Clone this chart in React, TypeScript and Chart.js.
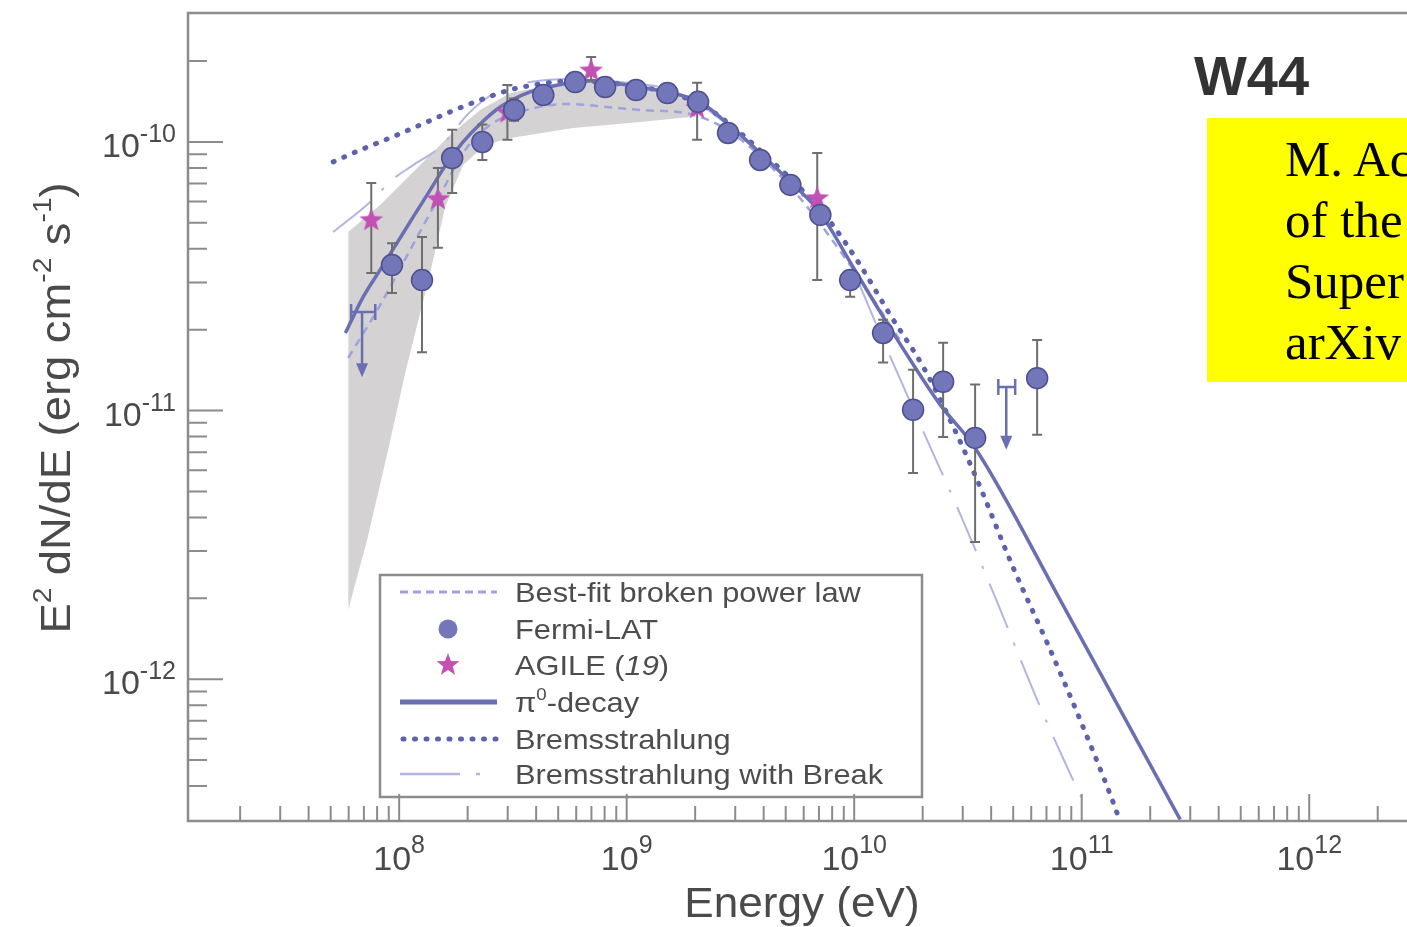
import React, { useEffect, useRef } from 'react';
import { Chart, registerables } from 'chart.js';

Chart.register(...registerables);

// ---------------- axis ranges & ticks ----------------
const xRange = [1.18e7, 2.69e12];
const yRange = [2.965e-13, 3.02e-10];
const xTickExponents = [8, 9, 10, 11, 12];
const yTickExponents = [-10, -11, -12];
const minorMantissas = [2, 3, 4, 5, 6, 7, 8, 9];

// ---------------- Fermi-LAT points ----------------
const fermiEnergy = [9.3e7, 1.26e8, 1.71e8, 2.32e8, 3.2e8, 4.3e8, 5.94e8, 8.04e8, 1.10e9, 1.51e9, 2.06e9, 2.79e9, 3.86e9, 5.24e9, 7.10e9, 9.6e9, 1.34e10, 1.815e10, 2.46e10, 3.40e10, 6.37e10];
const fermiFlux = [3.48e-11, 3.06e-11, 8.71e-11, 1.0e-10, 1.315e-10, 1.496e-10, 1.67e-10, 1.60e-10, 1.56e-10, 1.52e-10, 1.41e-10, 1.08e-10, 8.57e-11, 6.92e-11, 5.35e-11, 3.06e-11, 1.945e-11, 1.007e-11, 1.28e-11, 7.91e-12, 1.32e-11];
const fermiLow = [2.74e-11, 1.65e-11, 6.46e-11, 8.57e-11, 1.2e-10, 1.42e-10, 1.6e-10, 1.53e-10, 1.49e-10, 1.45e-10, 1.34e-10, 1.02e-10, 8.1e-11, 6.5e-11, 5.0e-11, 2.65e-11, 1.51e-11, 5.86e-12, 7.98e-12, 3.24e-12, 8.13e-12];
const fermiHigh = [4.2e-11, 4.43e-11, 1.11e-10, 1.16e-10, 1.45e-10, 1.58e-10, 1.75e-10, 1.67e-10, 1.63e-10, 1.59e-10, 1.48e-10, 1.14e-10, 9.1e-11, 7.4e-11, 5.7e-11, 3.3e-11, 2.18e-11, 1.42e-11, 1.79e-11, 1.25e-11, 1.83e-11];

// Fermi-LAT upper limits
const ulEnergy = [6.87e7, 4.66e10];
const ulEnergyMin = [6.15e7, 4.30e10];
const ulEnergyMax = [7.85e7, 5.10e10];
const ulFlux = [2.33e-11, 1.225e-11];
const ulArrowTip = [1.33e-11, 7.14e-12];

// ---------------- AGILE points ----------------
const agileEnergy = [7.54e7, 1.48e8, 2.99e8, 6.98e8, 2.04e9, 6.88e9];
const agileFlux = [5.13e-11, 6.14e-11, 1.29e-10, 1.85e-10, 1.34e-10, 6.19e-11];
const agileLow = [3.25e-11, 4.04e-11, 1.02e-10, 1.70e-10, 1.02e-10, 3.06e-11];
const agileHigh = [7.03e-11, 8.0e-11, 1.63e-10, 2.07e-10, 1.66e-10, 9.1e-11];

// ---------------- systematic band ----------------
const bandUpperEnergy = [5.97e7, 8.25e7, 1.153e8, 1.675e8, 2.27e8, 3.08e8, 4.61e8, 7.66e8, 1.27e9, 2.21e9];
const bandUpperFlux = [4.62e-11, 5.83e-11, 7.73e-11, 1.062e-10, 1.315e-10, 1.52e-10, 1.63e-10, 1.67e-10, 1.61e-10, 1.41e-10];
const bandLowerEnergy = [5.97e7, 7.23e7, 8.95e7, 1.063e8, 1.368e8, 1.592e8, 1.91e8, 2.39e8, 3.08e8, 5.82e8, 1.146e9, 1.90e9, 2.21e9];
const bandLowerFlux = [1.81e-12, 3.30e-12, 7.14e-12, 1.38e-11, 3.25e-11, 5.73e-11, 8.2e-11, 9.75e-11, 1.035e-10, 1.127e-10, 1.186e-10, 1.238e-10, 1.41e-10];

// ---------------- model curves ----------------
const pionEnergy = [5.80e7, 6.95e7, 8.25e7, 9.79e7, 1.153e8, 1.368e8, 1.626e8, 1.91e8, 2.27e8, 2.78e8, 3.77e8, 5.26e8, 6.92e8, 9.36e8, 1.27e9, 1.718e9, 2.10e9, 2.85e9, 3.86e9, 5.24e9, 7.10e9, 9.60e9, 1.30e10, 1.762e10, 2.39e10, 3.40e10, 8.05e10, 1.477e11, 2.71e11];
const pionFlux = [1.945e-11, 2.65e-11, 3.34e-11, 4.21e-11, 5.26e-11, 6.62e-11, 8.36e-11, 1.0e-10, 1.167e-10, 1.349e-10, 1.535e-10, 1.644e-10, 1.686e-10, 1.644e-10, 1.574e-10, 1.496e-10, 1.41e-10, 1.148e-10, 9.1e-11, 7.1e-11, 5.44e-11, 3.57e-11, 2.33e-11, 1.545e-11, 1.05e-11, 7.26e-12, 1.97e-12, 7.69e-13, 3.0e-13];

const bremsEnergy = [5.13e7, 6.74e7, 9.12e7, 1.236e8, 1.675e8, 2.27e8, 3.08e8, 4.17e8, 5.65e8, 7.66e8, 1.146e9, 1.718e9, 2.33e9, 3.16e9, 4.28e9, 5.79e9, 7.85e9, 1.062e10, 1.44e10, 2.01e10, 2.64e10, 3.47e10, 5.0e10, 7.05e10, 9.84e10, 1.403e11, 1.55e11];
const bremsFlux = [8.43e-11, 9.33e-11, 1.035e-10, 1.156e-10, 1.294e-10, 1.432e-10, 1.563e-10, 1.644e-10, 1.686e-10, 1.671e-10, 1.603e-10, 1.483e-10, 1.315e-10, 1.08e-10, 8.57e-11, 6.74e-11, 5.04e-11, 3.48e-11, 2.27e-11, 1.455e-11, 9.23e-12, 5.52e-12, 2.60e-12, 1.365e-12, 7.06e-13, 3.32e-13, 2.6e-13];

const breakEnergy = [5.13e7, 7.46e7, 9.31e7, 1.153e8, 1.514e8, 2.05e8, 2.78e8, 3.77e8, 5.65e8, 9.36e8, 1.718e9, 2.85e9, 5.24e9, 8.67e9, 1.396e10, 2.09e10, 2.87e10, 4.30e10, 6.37e10, 8.73e10, 1.035e11];
const breakFlux = [4.62e-11, 5.98e-11, 7.22e-11, 8.2e-11, 9.58e-11, 1.294e-10, 1.563e-10, 1.671e-10, 1.714e-10, 1.671e-10, 1.52e-10, 1.138e-10, 7.03e-11, 4.14e-11, 1.683e-11, 7.78e-12, 4.27e-12, 1.89e-12, 8.38e-13, 4.6e-13, 3.4e-13];

const bplEnergy = [5.97e7, 8.25e7, 1.117e8, 1.514e8, 1.95e8, 2.51e8, 3.40e8, 5.47e8, 8.2e8, 1.146e9, 1.90e9, 2.85e9, 5.24e9, 9.6e9, 1.59e10];
const bplFlux = [1.57e-11, 2.47e-11, 3.96e-11, 6.35e-11, 9.33e-11, 1.156e-10, 1.294e-10, 1.385e-10, 1.349e-10, 1.315e-10, 1.27e-10, 1.09e-10, 6.8e-11, 3.48e-11, 1.83e-11];

// ---------------- texts ----------------
const legendLabels = ['Best-fit broken power law', 'Fermi-LAT', 'AGILE (19)', 'π0-decay', 'Bremsstrahlung', 'Bremsstrahlung with Break'];
const xAxisTitle = 'Energy (eV)';
const panelTitle = 'W44';
const noteLines = ['M. Ac', 'of the', 'Super', 'arXiv'];

// ---------------- styles ----------------
const FONT = '"Liberation Sans", Arial, Helvetica, sans-serif';
const C_AXIS = '#8c8c8c';
const C_TEXT = '#4a4a4a';
const C_BAND = '#d4d2d2';
const C_PION = '#6a6fb4';
const C_BREMS = '#5d62ad';
const C_BPL = '#9ea2de';
const C_BREAK = '#b2b5e3';
const C_FERMI = '#7377b9';
const C_FERMI_EDGE = '#4c5090';
const C_AGILE = '#c250b5';
const C_ERR = '#6e6e6e';

const pts = (xs: number[], ys: number[]) => xs.map((x, i) => ({ x, y: ys[i] }));

type Seg = { t: string; sup?: boolean; italic?: boolean };

function drawSegs(
  ctx: CanvasRenderingContext2D,
  segs: Seg[],
  x: number,
  y: number,
  size: number,
  o: { align?: 'left' | 'center' | 'right'; sx?: number; supScale?: number; raise?: number; color?: string; bold?: boolean }
) {
  const supScale = o.supScale ?? 0.7;
  const raise = o.raise ?? size * 0.42;
  const sx = o.sx ?? 1;
  const fontFor = (s: Seg) =>
    `${s.italic ? 'italic ' : ''}${o.bold ? 'bold ' : ''}${s.sup ? Math.round(size * supScale) : size}px ${FONT}`;
  let w = 0;
  const widths = segs.map((s) => {
    ctx.font = fontFor(s);
    const m = ctx.measureText(s.t).width;
    w += m;
    return m;
  });
  ctx.save();
  ctx.translate(x, y);
  ctx.scale(sx, 1);
  let cx = o.align === 'center' ? -w / 2 : o.align === 'right' ? -w : 0;
  ctx.textAlign = 'left';
  ctx.textBaseline = 'alphabetic';
  ctx.fillStyle = o.color ?? C_TEXT;
  segs.forEach((s, i) => {
    ctx.font = fontFor(s);
    ctx.fillText(s.t, cx, s.sup ? -raise : 0);
    cx += widths[i];
  });
  ctx.restore();
}

function starPath(ctx: CanvasRenderingContext2D, cx: number, cy: number, R: number, r: number) {
  ctx.beginPath();
  for (let i = 0; i < 10; i++) {
    const a = -Math.PI / 2 + (i * Math.PI) / 5;
    const rad = i % 2 === 0 ? R : r;
    const px = cx + rad * Math.cos(a);
    const py = cy + rad * Math.sin(a);
    if (i === 0) ctx.moveTo(px, py);
    else ctx.lineTo(px, py);
  }
  ctx.closePath();
}

function legendSegs(label: string): Seg[] {
  const m = label.match(/^(.*\()(\d+)(\).*)$/);
  if (m) return [{ t: m[1] }, { t: m[2], italic: true }, { t: m[3] }];
  const p = label.match(/^(π)(0)(.*)$/);
  if (p) return [{ t: p[1] }, { t: p[2], sup: true }, { t: p[3] }];
  return [{ t: label }];
}

const overlayPlugin = {
  id: 'overlay',
  beforeDatasetDraw(chart: any, args: any) {
    if (args.index !== 7) return; // AGILE dataset: draw error bars & limits just before markers
    const ctx: CanvasRenderingContext2D = chart.ctx;
    const xs = chart.scales.x;
    const ys = chart.scales.y;
    ctx.save();
    ctx.beginPath();
    ctx.rect(chart.chartArea.left, chart.chartArea.top, chart.chartArea.right - chart.chartArea.left, chart.chartArea.bottom - chart.chartArea.top);
    ctx.clip();
    ctx.strokeStyle = C_ERR;
    ctx.lineWidth = 2;
    ctx.beginPath();
    const vbar = (e: number, lo: number, hi: number) => {
      const px = xs.getPixelForValue(e);
      const y1 = ys.getPixelForValue(hi);
      const y2 = ys.getPixelForValue(lo);
      ctx.moveTo(px, y1);
      ctx.lineTo(px, y2);
      ctx.moveTo(px - 5, y1);
      ctx.lineTo(px + 5, y1);
      ctx.moveTo(px - 5, y2);
      ctx.lineTo(px + 5, y2);
    };
    fermiEnergy.forEach((e, i) => vbar(e, fermiLow[i], fermiHigh[i]));
    agileEnergy.forEach((e, i) => vbar(e, agileLow[i], agileHigh[i]));
    ctx.stroke();

    // upper limits
    ctx.strokeStyle = C_PION;
    ctx.fillStyle = C_PION;
    ctx.lineWidth = 2.5;
    ulEnergy.forEach((e, i) => {
      const px = xs.getPixelForValue(e);
      const x1 = xs.getPixelForValue(ulEnergyMin[i]);
      const x2 = xs.getPixelForValue(ulEnergyMax[i]);
      const py = ys.getPixelForValue(ulFlux[i]);
      const tip = ys.getPixelForValue(ulArrowTip[i]);
      ctx.beginPath();
      ctx.moveTo(x1, py);
      ctx.lineTo(x2, py);
      ctx.moveTo(x1, py - 8);
      ctx.lineTo(x1, py + 8);
      ctx.moveTo(x2, py - 8);
      ctx.lineTo(x2, py + 8);
      ctx.moveTo(px, py);
      ctx.lineTo(px, tip - 12);
      ctx.stroke();
      ctx.beginPath();
      ctx.moveTo(px - 6, tip - 14);
      ctx.lineTo(px + 6, tip - 14);
      ctx.lineTo(px, tip);
      ctx.closePath();
      ctx.fill();
    });
    ctx.restore();
  },
  afterDraw(chart: any) {
    const ctx: CanvasRenderingContext2D = chart.ctx;
    const xs = chart.scales.x;
    const ys = chart.scales.y;
    const { left: L, top: T, right: R, bottom: B } = chart.chartArea;

    // ---- legend ----
    const lx0 = 380, ly0 = 575, lx1 = 922, ly1 = 797;
    ctx.save();
    ctx.fillStyle = '#ffffff';
    ctx.fillRect(lx0, ly0, lx1 - lx0, ly1 - ly0);
    ctx.strokeStyle = C_AXIS;
    ctx.lineWidth = 2.5;
    ctx.strokeRect(lx0, ly0, lx1 - lx0, ly1 - ly0);
    const rows = [592, 629, 665, 702, 739, 774];
    const sx0 = 400, sx1 = 497, sc = 448;
    ctx.lineCap = 'butt';
    ctx.strokeStyle = C_BPL;
    ctx.lineWidth = 3;
    ctx.setLineDash([8, 5]);
    ctx.beginPath(); ctx.moveTo(sx0, rows[0]); ctx.lineTo(sx1, rows[0]); ctx.stroke();
    ctx.setLineDash([]);
    ctx.beginPath(); ctx.arc(sc, rows[1], 9.5, 0, Math.PI * 2);
    ctx.fillStyle = C_FERMI; ctx.fill();
    starPath(ctx, sc, rows[2], 12, 5); ctx.fillStyle = C_AGILE; ctx.fill();
    ctx.strokeStyle = C_PION; ctx.lineWidth = 5;
    ctx.beginPath(); ctx.moveTo(sx0, rows[3]); ctx.lineTo(sx1, rows[3]); ctx.stroke();
    ctx.strokeStyle = C_BREMS; ctx.lineWidth = 5; ctx.lineCap = 'round';
    ctx.setLineDash([1, 10.5]);
    ctx.beginPath(); ctx.moveTo(sx0 + 3, rows[4]); ctx.lineTo(sx1, rows[4]); ctx.stroke();
    ctx.setLineDash([]);
    ctx.lineCap = 'butt';
    ctx.strokeStyle = C_BREAK; ctx.lineWidth = 2.5;
    ctx.beginPath(); ctx.moveTo(sx0, rows[5]); ctx.lineTo(460, rows[5]); ctx.moveTo(476, rows[5]); ctx.lineTo(480, rows[5]); ctx.stroke();
    legendLabels.forEach((lab, i) => {
      drawSegs(ctx, legendSegs(lab), 515, rows[i] + 10, 28, { sx: 1.1, supScale: 0.6, raise: 12, color: '#4d4d4d' });
    });
    ctx.restore();

    // ---- axes frame ----
    ctx.save();
    ctx.strokeStyle = C_AXIS;
    ctx.lineWidth = 2.5;
    ctx.lineCap = 'square';
    ctx.beginPath();
    ctx.moveTo(R + 2, T);
    ctx.lineTo(L, T);
    ctx.lineTo(L, B);
    ctx.lineTo(R + 2, B);
    ctx.stroke();
    ctx.lineWidth = 2;
    ctx.lineCap = 'butt';
    ctx.beginPath();
    const yd0 = Math.floor(Math.log10(yRange[0]));
    const yd1 = Math.floor(Math.log10(yRange[1]));
    for (let d = yd0; d <= yd1; d++) {
      [1, ...minorMantissas].forEach((m) => {
        const v = m * Math.pow(10, d);
        const py = ys.getPixelForValue(v);
        if (py < T + 5 || py > B - 5) return;
        const len = m === 1 ? 35 : 19;
        ctx.moveTo(L, py);
        ctx.lineTo(L + len, py);
      });
    }
    const xd0 = Math.floor(Math.log10(xRange[0]));
    const xd1 = Math.floor(Math.log10(xRange[1]));
    for (let d = xd0; d <= xd1; d++) {
      [1, ...minorMantissas].forEach((m) => {
        const v = m * Math.pow(10, d);
        const px = xs.getPixelForValue(v);
        if (px < L + 5 || px > R) return;
        const len = m === 1 ? 27 : 15;
        ctx.moveTo(px, B);
        ctx.lineTo(px, B - len);
      });
    }
    ctx.stroke();
    ctx.restore();

    // ---- tick labels ----
    yTickExponents.forEach((e) => {
      const py = ys.getPixelForValue(Math.pow(10, e));
      drawSegs(ctx, [{ t: '10' }, { t: String(e), sup: true }], 176, py + 15, 34, { align: 'right', supScale: 0.74, raise: 15 });
    });
    xTickExponents.forEach((e) => {
      const px = xs.getPixelForValue(Math.pow(10, e));
      drawSegs(ctx, [{ t: '10' }, { t: String(e), sup: true }], px, 870, 34, { align: 'center', supScale: 0.74, raise: 17 });
    });

    // ---- axis titles ----
    drawSegs(ctx, [{ t: xAxisTitle }], 802, 917, 42, { align: 'center', sx: 1.05 });
    ctx.save();
    ctx.translate(70, 408);
    ctx.rotate(-Math.PI / 2);
    drawSegs(
      ctx,
      [{ t: 'E' }, { t: '2', sup: true }, { t: ' dN/dE (erg cm' }, { t: '-2', sup: true }, { t: ' s' }, { t: '-1', sup: true }, { t: ')' }],
      0,
      0,
      42,
      { align: 'center', sx: 1.08, supScale: 0.62, raise: 19 }
    );
    ctx.restore();

    // ---- panel title ----
    drawSegs(ctx, [{ t: panelTitle }], 1194, 95, 56, { bold: true, color: '#333333' });
  },
};

export default function App() {
  const canvasRef = useRef<HTMLCanvasElement | null>(null);

  useEffect(() => {
    const canvas = canvasRef.current;
    if (!canvas) return;

    const star = document.createElement('canvas');
    star.width = 28;
    star.height = 28;
    const sctx = star.getContext('2d')!;
    starPath(sctx, 14, 14.5, 12.5, 5.2);
    sctx.fillStyle = C_AGILE;
    sctx.fill();

    const curve = (data: any, color: string, width: number, dash: number[], order: number, cap: CanvasLineCap = 'butt') => ({
      type: 'line' as const,
      data,
      borderColor: color,
      borderWidth: width,
      borderDash: dash,
      borderCapStyle: cap,
      pointRadius: 0,
      fill: false,
      cubicInterpolationMode: 'monotone' as const,
      order,
    });

    const chart = new Chart(canvas, {
      type: 'scatter',
      data: {
        datasets: [
          {
            type: 'line',
            data: pts(bandUpperEnergy, bandUpperFlux),
            borderColor: 'rgba(0,0,0,0)',
            borderWidth: 1,
            backgroundColor: C_BAND,
            pointRadius: 0,
            fill: false,
            tension: 0,
            order: 11,
          } as any,
          {
            type: 'line',
            data: pts(bandLowerEnergy, bandLowerFlux),
            borderColor: 'rgba(0,0,0,0)',
            borderWidth: 1,
            backgroundColor: C_BAND,
            pointRadius: 0,
            fill: '-1',
            tension: 0,
            order: 10,
          } as any,
          curve(pts(bplEnergy, bplFlux), C_BPL, 2.5, [8, 6], 9) as any,
          curve(pts(breakEnergy, breakFlux), C_BREAK, 2, [48, 16, 3, 16], 8) as any,
          curve(pts(bremsEnergy, bremsFlux), C_BREMS, 5, [1, 10.5], 7, 'round') as any,
          curve(pts(pionEnergy, pionFlux), C_PION, 3.5, [], 6) as any,
          { type: 'scatter', data: [], pointRadius: 0, order: 5 } as any,
          {
            type: 'scatter',
            data: pts(agileEnergy, agileFlux),
            pointStyle: star,
            pointRadius: 12,
            order: 2,
          } as any,
          {
            type: 'scatter',
            data: pts(fermiEnergy, fermiFlux),
            pointStyle: 'circle',
            pointRadius: 10.5,
            backgroundColor: C_FERMI,
            borderColor: C_FERMI_EDGE,
            borderWidth: 1.5,
            order: 1,
          } as any,
        ],
      },
      options: {
        responsive: false,
        animation: false,
        events: [],
        layout: { autoPadding: false, padding: { left: 188, top: 13, right: 0, bottom: 106 } },
        scales: {
          x: { type: 'logarithmic', min: xRange[0], max: xRange[1], display: false, bounds: 'data' },
          y: { type: 'logarithmic', min: yRange[0], max: yRange[1], display: false, bounds: 'data' },
        },
        plugins: {
          legend: { display: false },
          tooltip: { enabled: false },
          title: { display: false },
        },
      } as any,
      plugins: [overlayPlugin as any],
    });

    return () => chart.destroy();
  }, []);

  return (
    <div style={{ position: 'absolute', left: 0, top: 0, width: 1407, height: 927, overflow: 'hidden', background: '#ffffff' }}>
      <canvas ref={canvasRef} width={1407} height={927} style={{ display: 'block' }} />
      <div
        style={{
          position: 'absolute',
          left: 1207,
          top: 118,
          width: 260,
          height: 264,
          background: '#ffff00',
          boxSizing: 'border-box',
          paddingTop: 11,
          paddingLeft: 78,
          fontFamily: '"Liberation Serif", "Times New Roman", serif',
          fontSize: 51,
          lineHeight: '61px',
          color: '#000000',
          whiteSpace: 'nowrap',
        }}
      >
        {noteLines.map((l, i) => (
          <div key={i}>{l}</div>
        ))}
      </div>
    </div>
  );
}
